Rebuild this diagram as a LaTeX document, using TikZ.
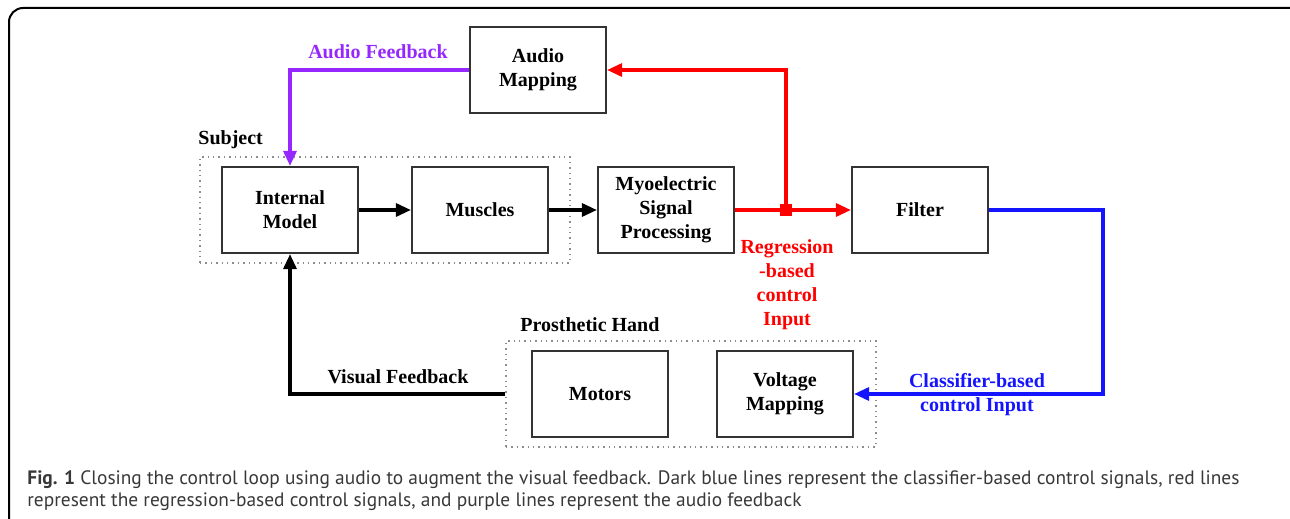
\documentclass[tikz,border=0pt]{standalone}
\usepackage{fontspec}
\setmainfont{Liberation Serif}
\newfontfamily\captionfont{PT Sans}
\usetikzlibrary{arrows.meta, positioning}
\definecolor{myred}{RGB}{255,0,0}
\definecolor{myblue}{RGB}{20,20,255}
\definecolor{mypurple}{RGB}{150,40,255}
\definecolor{myframe}{gray}{0.2}
\definecolor{mydots}{gray}{0.55}
\definecolor{mycaption}{gray}{0.22}

\begin{document}
\begin{tikzpicture}[x=0.5pt, y=-0.5pt, >={Triangle[length=7.5pt,width=6.5pt]},
  block/.style={draw=myframe, line width=1.1pt, minimum width=68pt, minimum height=43pt, align=center, font=\bfseries, inner sep=0pt},
  group/.style={draw=mydots, dotted, line width=0.7pt, minimum width=185pt, minimum height=53pt, inner sep=0pt},
  sig/.style={->, line width=1.6pt},
  lbl/.style={font=\bfseries, align=center, inner sep=0pt}]

  % page and frame
  \clip (0,0) rectangle (1290,519);
  \draw[line width=1pt, rounded corners=7pt] (9,8) rectangle (1330,545);

  % Subject
  \node (subject) at (385,210) [group] {};
  \node (subjectlbl) at (198,140) [lbl, anchor=west] {Subject};
  \node (internal) at (290,210) [block] {Internal\\Model};
  \node (muscles) at (480,210) [block] {Muscles};

  % Processing chain
  \node (myo) at (666,210) [block] {Myoelectric\\Signal\\Processing};
  \node (filter) at (920,210) [block] {Filter};
  \node (audio) at (538,70) [block] {Audio\\Mapping};

  % Prosthetic Hand
  \node (hand) at (691,394) [group] {};
  \node (handlbl) at (520,325) [lbl, anchor=west] {Prosthetic Hand};
  \node (motors) at (600,394) [block] {Motors};
  \node (voltage) at (785,394) [block] {Voltage\\Mapping};

  % split point and corner
  \node (split) at (786,210) [fill=myred, minimum size=6pt, inner sep=0pt] {};
  \coordinate (bluecorner) at (1103,210);

  % black arrows
  \draw[sig] (internal.east) -- (muscles.west);
  \draw[sig] (muscles.east) -- (myo.west);

  % regression signals
  \draw[sig, myred] (myo.east) -- (filter.west);
  \draw[sig, myred] (split.center) |- (audio.east);
  \node (regress) at (787,285) [lbl, text=myred] {Regression\\-based\\control\\Input};

  % audio feedback
  \draw[sig, mypurple] (audio.west) -| (internal.north);
  \node (audiolbl) at (378,52) [lbl, text=mypurple] {Audio Feedback};

  % classifier signals
  \draw[sig, myblue] (filter.east) -- (bluecorner) |- (voltage.east);
  \node (classlbl) at (977,395) [lbl, text=myblue] {Classifier-based\\control Input};

  % visual feedback
  \draw[sig] (hand.west) -| (internal.south);
  \node (visuallbl) at (398,377) [lbl] {Visual Feedback};

  % caption
  \node (caption1) at (27,484) [anchor=base west, inner sep=0pt, text=mycaption, font=\captionfont\fontsize{9.7}{11}\selectfont] {\textbf{Fig. 1} Closing the control loop using audio to augment the visual feedback. Dark blue lines represent the classifier-based control signals, red lines};
  \node (caption2) at (27,506) [anchor=base west, inner sep=0pt, text=mycaption, font=\captionfont\fontsize{9.7}{11}\selectfont] {represent the regression-based control signals, and purple lines represent the audio feedback};
\end{tikzpicture}
\end{document}
